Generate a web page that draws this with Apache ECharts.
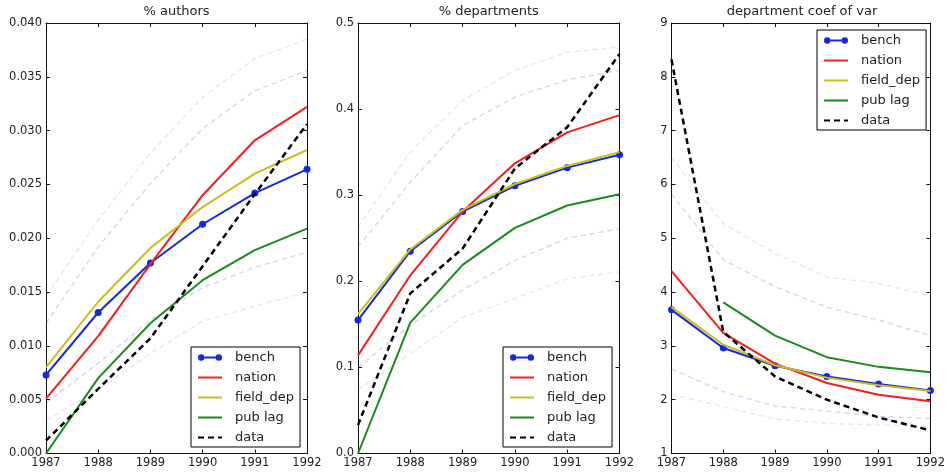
<!DOCTYPE html>
<html>
<head>
<meta charset="utf-8">
<script src="https://cdn.jsdelivr.net/npm/echarts@6/dist/echarts.min.js"></script>
<style>html,body{margin:0;padding:0;background:#fff}#c{width:948px;height:472px}</style>
</head>
<body>
<div id="c"></div>
<script>
// ---------- data ----------
const years = [1987, 1988, 1989, 1990, 1991, 1992];
const seriesNames = ['bench', 'nation', 'field_dep', 'pub lag', 'data'];
const titles = ['% authors', '% departments', 'department coef of var'];

// panel 1: % authors
const authorsBench    = [0.0073, 0.0131, 0.0177, 0.0213, 0.0242, 0.0264];
const authorsNation   = [0.0051, 0.0109, 0.0176, 0.0240, 0.0291, 0.0322];
const authorsField    = [0.0080, 0.0141, 0.0191, 0.0229, 0.0260, 0.0282];
const authorsPubLag   = [0.0000, 0.0070, 0.0121, 0.0161, 0.0189, 0.0209];
const authorsData     = [0.0012, 0.0060, 0.0107, 0.0174, 0.0241, 0.0306];
const authorsUpOuter  = [0.0146, 0.0217, 0.0279, 0.0331, 0.0367, 0.0385];
const authorsUpInner  = [0.0121, 0.0192, 0.0251, 0.0302, 0.0337, 0.0356];
const authorsLoInner  = [0.0047, 0.0084, 0.0124, 0.0154, 0.0173, 0.0187];
const authorsLoOuter  = [0.0031, 0.0059, 0.0093, 0.0123, 0.0137, 0.0150];

// panel 2: % departments
const deptBench    = [0.155, 0.235, 0.281, 0.311, 0.332, 0.347];
const deptNation   = [0.114, 0.207, 0.281, 0.337, 0.373, 0.393];
const deptField    = [0.162, 0.237, 0.283, 0.313, 0.334, 0.350];
const deptPubLag   = [0.000, 0.152, 0.219, 0.262, 0.288, 0.301];
const deptData     = [0.033, 0.186, 0.238, 0.331, 0.379, 0.464];
const deptUpOuter  = [0.263, 0.350, 0.410, 0.445, 0.466, 0.472];
const deptUpInner  = [0.240, 0.315, 0.381, 0.414, 0.434, 0.445];
const deptLoInner  = [0.100, 0.149, 0.190, 0.224, 0.250, 0.261];
const deptLoOuter  = [0.074, 0.116, 0.158, 0.180, 0.203, 0.211];

// panel 3: department coef of var
const cvBench    = [3.67, 2.96, 2.63, 2.43, 2.29, 2.17];
const cvNation   = [4.39, 3.24, 2.67, 2.31, 2.09, 1.97];
const cvField    = [3.72, 3.02, 2.64, 2.41, 2.27, 2.16];
const cvPubLag   = [null, 3.81, 3.19, 2.79, 2.61, 2.51];
const cvData     = [8.32, 3.26, 2.43, 2.00, 1.67, 1.43];
const cvUpOuter  = [6.50, 5.27, 4.72, 4.28, 4.16, 3.93];
const cvUpInner  = [5.82, 4.60, 4.10, 3.72, 3.48, 3.19];
const cvLoInner  = [2.57, 2.15, 1.88, 1.79, 1.69, 1.65];
const cvLoOuter  = [2.10, 1.87, 1.64, 1.56, 1.53, 1.51];

const yMins = [0, 0, 1];
const yMaxs = [0.04, 0.5, 9];
const yIntervals = [0.005, 0.1, 1];
const yDecimals = [3, 1, 0];

// ---------- build ----------
const panels = [
  {main: [authorsBench, authorsNation, authorsField, authorsPubLag, authorsData],
   bands: [authorsUpOuter, authorsUpInner, authorsLoInner, authorsLoOuter]},
  {main: [deptBench, deptNation, deptField, deptPubLag, deptData],
   bands: [deptUpOuter, deptUpInner, deptLoInner, deptLoOuter]},
  {main: [cvBench, cvNation, cvField, cvPubLag, cvData],
   bands: [cvUpOuter, cvUpInner, cvLoInner, cvLoOuter]}
];

const gridLayout = [
  {left: 46, top: 23, width: 261, height: 430.5},
  {left: 358, top: 23, width: 261.5, height: 430.5},
  {left: 671.5, top: 23, width: 261, height: 430.5}
];
const legendPos = [
  {left: 191, top: 347},
  {left: 503, top: 347},
  {left: 817, top: 30}
];
const mainColors = ['#1428e0', '#f02020', '#cabd1c', '#1a8a1a', '#000000'];
const bandColors = ['rgba(90,100,220,0.16)', 'rgba(90,100,220,0.26)', 'rgba(90,100,220,0.26)', 'rgba(90,100,220,0.16)'];
const benchIcon = 'path://M0,3.2a3.2,3.2 0 1,0 6.4,0a3.2,3.2 0 1,0 -6.4,0Z M17.6,3.2a3.2,3.2 0 1,0 6.4,0a3.2,3.2 0 1,0 -6.4,0Z M6.3,2.3H17.7V4.1H6.3Z';

const axisColor = '#111';
const labelColor = '#222';
const xAxes = [], yAxes = [], grids = [], series = [], legends = [], titleOpts = [];

panels.forEach((p, i) => {
  const g = gridLayout[i];
  grids.push(Object.assign({containLabel: false}, g));
  titleOpts.push({
    text: titles[i], left: g.left + g.width / 2, top: 5, textAlign: 'center', padding: 0,
    textStyle: {fontFamily: 'DejaVu Sans', fontSize: 13, fontWeight: 'normal', color: '#222'}
  });
  const xBase = {
    gridIndex: i, type: 'value', min: 1987, max: 1992, interval: 1,
    splitLine: {show: false},
    axisLine: {show: true, onZero: false, lineStyle: {color: axisColor, width: 1}},
    axisTick: {show: true, inside: true, length: 4, lineStyle: {color: axisColor}}
  };
  xAxes.push(Object.assign({}, xBase, {
    position: 'bottom',
    axisLabel: {color: labelColor, fontFamily: 'DejaVu Sans', fontSize: 11.5, margin: 4,
      formatter: v => String(v)}
  }));
  xAxes.push(Object.assign({}, xBase, {position: 'top', axisLabel: {show: false}}));
  const yBase = {
    gridIndex: i, type: 'value', min: yMins[i], max: yMaxs[i], interval: yIntervals[i],
    splitLine: {show: false},
    axisLine: {show: true, onZero: false, lineStyle: {color: axisColor, width: 1}},
    axisTick: {show: true, inside: true, length: 4, lineStyle: {color: axisColor}}
  };
  const dec = yDecimals[i];
  yAxes.push(Object.assign({}, yBase, {
    position: 'left',
    axisLabel: {color: labelColor, fontFamily: 'DejaVu Sans', fontSize: 11.5, margin: 4,
      formatter: v => Number(v).toFixed(dec)}
  }));
  yAxes.push(Object.assign({}, yBase, {position: 'right', axisLabel: {show: false}}));

  p.bands.forEach((b, k) => {
    series.push({
      name: '_band' + k, type: 'line', xAxisIndex: 2 * i, yAxisIndex: 2 * i,
      data: years.map((yr, j) => [yr, b[j]]), symbol: 'none', smooth: false, silent: true,
      color: bandColors[k], lineStyle: {color: bandColors[k], width: 1.5, type: [5, 4]}, z: 1
    });
  });
  p.main.forEach((m, k) => {
    const isBench = k === 0, isData = k === 4;
    series.push({
      name: seriesNames[k], type: 'line', xAxisIndex: 2 * i, yAxisIndex: 2 * i,
      data: years.map((yr, j) => [yr, m[j]]),
      symbol: isBench ? 'circle' : 'none', symbolSize: 7, showSymbol: isBench,
      color: mainColors[k],
      itemStyle: {color: mainColors[k]},
      lineStyle: {color: mainColors[k], width: isData ? 2.5 : 2, type: isData ? [6, 4] : 'solid'},
      connectNulls: false, z: 2 + k
    });
  });
  legends.push(Object.assign({
    orient: 'vertical', itemWidth: 24, itemHeight: 14, itemGap: 7,
    padding: [4, 6, 3, 6], borderColor: '#000', borderWidth: 1, backgroundColor: '#fff',
    selectedMode: false, itemStyle: {opacity: 0},
    textStyle: {fontFamily: 'DejaVu Sans', fontSize: 13, color: '#222', padding: [0, 0, 0, 8]},
    data: [{name: 'bench', icon: benchIcon, itemStyle: {opacity: 1}}, 'nation', 'field_dep', 'pub lag', 'data']
  }, legendPos[i]));
});

const chart = echarts.init(document.getElementById('c'), null, {renderer: 'canvas'});
chart.setOption({
  animation: false,
  backgroundColor: '#fff',
  title: titleOpts,
  grid: grids,
  xAxis: xAxes,
  yAxis: yAxes,
  legend: legends,
  series: series
});
</script>
</body>
</html>
